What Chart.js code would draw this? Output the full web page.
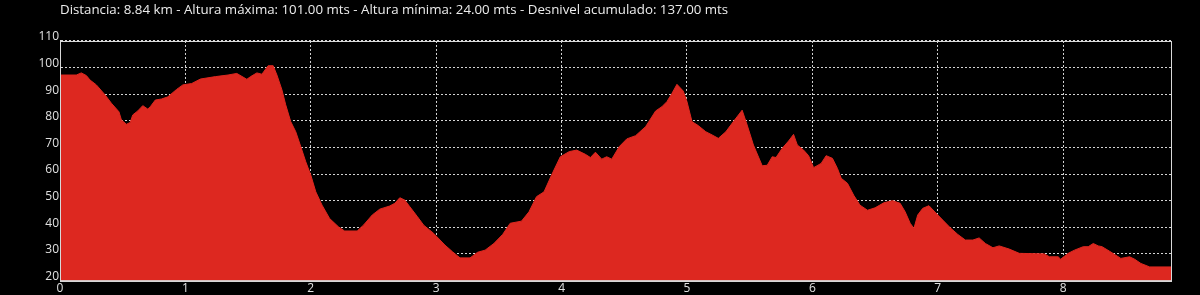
<!DOCTYPE html>
<html>
<head>
<meta charset="utf-8">
<script src="https://cdn.jsdelivr.net/npm/chart.js@4"></script>
<style>
  html, body { margin: 0; padding: 0; background: #000; }
  #wrap { width: 1200px; height: 295px; }
</style>
</head>
<body>
<div id="wrap"><canvas id="perfil"></canvas></div>
<script>
const distancia = [0, 0.13, 0.17, 0.21, 0.24, 0.29, 0.36, 0.41, 0.47, 0.49, 0.53, 0.56, 0.58, 0.62, 0.66, 0.70, 0.72, 0.76, 0.81, 0.86,
  0.93, 0.98, 1.05, 1.12, 1.24, 1.34, 1.41, 1.49, 1.52, 1.57, 1.61, 1.66, 1.70, 1.73, 1.77, 1.80, 1.84, 1.88, 1.92, 1.96,
  2.00, 2.04, 2.09, 2.15, 2.22, 2.27, 2.37, 2.42, 2.49, 2.55, 2.63, 2.67, 2.71, 2.75, 2.79, 2.85, 2.90, 2.98, 3.07, 3.13,
  3.19, 3.27, 3.33, 3.39, 3.46, 3.53, 3.59, 3.68, 3.74, 3.80, 3.86, 3.92, 3.99, 4.06, 4.12, 4.19, 4.23, 4.27, 4.32, 4.36,
  4.40, 4.46, 4.52, 4.59, 4.67, 4.75, 4.80, 4.84, 4.88, 4.92, 4.97, 5.00, 5.04, 5.09, 5.15, 5.20, 5.25, 5.31, 5.37, 5.44,
  5.48, 5.53, 5.60, 5.64, 5.68, 5.71, 5.76, 5.81, 5.85, 5.88, 5.93, 5.97, 6.01, 6.07, 6.11, 6.16, 6.20, 6.23, 6.28, 6.33,
  6.38, 6.44, 6.50, 6.57, 6.64, 6.70, 6.74, 6.78, 6.81, 6.84, 6.88, 6.93, 6.97, 7.04, 7.10, 7.16, 7.22, 7.28, 7.33, 7.38,
  7.44, 7.49, 7.57, 7.65, 7.85, 7.89, 7.96, 7.98, 8.04, 8.09, 8.16, 8.20, 8.24, 8.28, 8.31, 8.37, 8.41, 8.46, 8.53, 8.57,
  8.62, 8.69, 8.86];
const altura = [97.2, 97.2, 98, 97, 95.3, 93.5, 89.7, 86.6, 83.4, 80.3, 78.7, 79.4, 82.2, 83.7, 85.7, 84.4, 85.3, 87.8, 88.2, 89,
  91.8, 93.5, 94, 95.7, 96.6, 97.2, 97.8, 95.6, 96.6, 98, 97.5, 100.7, 100.7, 97.2, 91.6, 86, 79.7, 75.9, 70.3, 64.6,
  59.6, 53.3, 48.3, 43.3, 40.2, 38.6, 38.6, 40.8, 44.6, 46.8, 48, 49, 51.1, 50.2, 47.7, 44, 40.8, 37.7, 33.3, 30.8,
  28.5, 28.5, 30.6, 31.4, 33.9, 37.3, 41.5, 42.3, 45.8, 51.5, 53.3, 59.6, 66.5, 68.4, 69, 67.4, 66.2, 68.2, 65.6, 66.5,
  65.6, 70.3, 73.2, 74.4, 77.8, 83.7, 85.3, 87.2, 90.3, 93.7, 91.2, 87.2, 79.7, 78.2, 75.9, 74.7, 73.4, 75.9, 79.7, 84,
  78.4, 70.9, 63.1, 63.3, 66.5, 66.2, 69.7, 72.4, 74.9, 70.9, 69, 66.9, 62.4, 64, 66.9, 65.9, 62.1, 58.4, 56.5, 52,
  48.3, 46.4, 47.3, 49.2, 50, 49, 45.8, 41.5, 39.6, 44.6, 47.1, 48.1, 46.1, 42.7, 39.8, 37.3, 35.2, 35.2, 36, 33.9,
  32.3, 33, 31.8, 30.2, 30, 28.9, 28.9, 28, 30.2, 31.4, 32.7, 32.7, 33.9, 33, 32.7, 31, 29.8, 28.3, 28.9, 28,
  26.4, 25.1, 25.1];
const ticksX = [0, 1, 2, 3, 4, 5, 6, 7, 8];
const ticksY = [20, 30, 40, 50, 60, 70, 80, 90, 100, 110];
const titulo = 'Distancia: 8.84 km - Altura máxima: 101.00 mts - Altura mínima: 24.00 mts - Desnivel acumulado: 137.00 mts';

const puntos = distancia.map((d, i) => ({ x: d, y: altura[i] }));

// marco blanco alrededor del área del gráfico
const marco = {
  id: 'marco',
  afterDraw(chart) {
    const a = chart.chartArea;
    const ctx = chart.ctx;
    ctx.save();
    ctx.strokeStyle = '#d8d8d8';
    ctx.lineWidth = 1;
    ctx.strokeRect(Math.round(a.left) + 0.5, Math.round(a.top) + 0.5,
      Math.round(a.right - a.left), Math.round(a.bottom - a.top));
    ctx.restore();
  }
};

const ctx = document.getElementById('perfil').getContext('2d');
const grafico = new Chart(ctx, {
  type: 'line',
  data: {
    datasets: [{
      data: puntos,
      borderColor: '#dd2820',
      borderWidth: 1,
      backgroundColor: '#dd2820',
      fill: 'start',
      pointRadius: 0,
      tension: 0
    }]
  },
  options: {
    responsive: true,
    maintainAspectRatio: false,
    animation: false,
    layout: { padding: { left: 0, right: 29, top: 0, bottom: 0 } },
    plugins: {
      legend: { display: false },
      tooltip: { enabled: false },
      title: {
        display: true,
        text: titulo,
        align: 'start',
        fullSize: false,
        color: '#ececec',
        font: { family: 'Open Sans', size: 13.3, weight: 'normal' },
        padding: { top: 2, bottom: 23 }
      }
    },
    scales: {
      x: {
        type: 'linear',
        min: 0,
        max: 8.86,
        z: 1,
        afterBuildTicks: s => { s.ticks = ticksX.map(v => ({ value: v })); },
        afterFit: s => { s.height = 14.5; },
        grid: { color: 'rgba(235,235,235,0.9)', drawTicks: false },
        border: { display: true, color: '#d8d8d8', width: 1, dash: [2, 2] },
        ticks: { color: '#e0e0e0', padding: 1, maxRotation: 0, font: { family: 'Open Sans', size: 12 } }
      },
      y: {
        min: 20,
        max: 110,
        z: 1,
        afterBuildTicks: s => { s.ticks = ticksY.map(v => ({ value: v })); },
        afterFit: s => { s.width = 60; },
        grid: { color: 'rgba(235,235,235,0.9)', drawTicks: false },
        border: { display: true, color: '#d8d8d8', width: 1, dash: [2, 2] },
        ticks: { color: '#e0e0e0', padding: 1, labelOffset: -4, font: { family: 'Open Sans', size: 12 } }
      }
    }
  },
  plugins: [marco]
});
</script>
</body>
</html>
